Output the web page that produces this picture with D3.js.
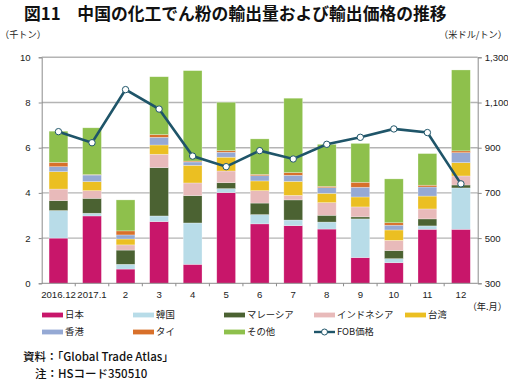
<!DOCTYPE html>
<html><head><meta charset="utf-8">
<script src="https://cdn.jsdelivr.net/npm/d3@7/dist/d3.min.js"></script>
<style>
body{margin:0;background:#fff;}
svg{display:block;font-family:"Liberation Sans","Noto Sans CJK JP",sans-serif;}
.jp{font-family:"Noto Sans CJK JP","Liberation Sans",sans-serif;}
</style></head><body>
<svg id="c" width="508" height="380"></svg>
<script>
const months = ["2016.12","2017.1","2","3","4","5","6","7","8","9","10","11","12"];
const seriesNames = ["日本","韓国","マレーシア","インドネシア","台湾","香港","タイ","その他"];
const japan     = [2.00,2.98,0.63,2.73,0.84,4.01,2.63,2.55,2.40,1.14,0.91,2.39,2.39];
const korea     = [1.22,0.12,0.21,0.25,1.83,0.18,0.41,0.25,0.31,1.71,0.18,0.15,1.83];
const malaysia  = [0.44,0.66,0.63,2.14,1.21,0.26,0.51,0.89,0.30,0.09,0.36,0.31,0.13];
const indonesia = [0.51,0.34,0.23,0.59,0.56,0.52,0.55,0.20,0.56,0.44,0.45,0.44,0.40];
const taiwan    = [0.77,0.40,0.26,0.41,0.78,0.61,0.43,0.62,0.41,0.44,0.46,0.57,0.59];
const hongkong  = [0.22,0.29,0.18,0.34,0.15,0.22,0.23,0.27,0.25,0.43,0.21,0.40,0.44];
const thai      = [0.19,0.02,0.18,0.12,0.04,0.07,0.06,0.12,0.06,0.22,0.11,0.08,0.08];
const other     = [1.38,2.07,1.37,2.56,4.00,2.14,1.57,3.29,1.86,1.72,1.94,1.40,3.58];
const fobPrice  = [971,922,1157,1071,863,816,887,850,915,946,983,967,740];
const leftTicks = [0,2,4,6,8,10];
const rightTicks = [300,500,700,900,1100,1300];
const colors = ["#C8166A","#B8DCE8","#4B6232","#E8BABA","#EBBF22","#95A9D4","#D8702A","#8EC04C"];
const lineColor = "#1F5569";

const svg = d3.select("#c");
const L = 41.7, R = 477.7, T = 57.3, B = 283.3;

const x = d3.scaleBand().domain(months).range([L,R]).paddingInner(0.44).paddingOuter(0.22);
const y = d3.scaleLinear().domain([0,10]).range([B,T]);
const y2 = d3.scaleLinear().domain([300,1300]).range([B,T]);

// title
svg.append("text").attr("class","jp").attr("x",24).attr("y",19.5)
  .attr("font-size",16.8).attr("font-weight",700).attr("fill","#111")
  .text("図11　中国の化工でん粉の輸出量および輸出価格の推移");

svg.append("text").attr("class","jp").attr("x",0).attr("y",38).attr("font-size",9.2).attr("fill","#222").text("（千トン）");
svg.append("text").attr("class","jp").attr("x",507).attr("y",38).attr("text-anchor","end").attr("font-size",9.2).attr("fill","#222").text("（米ドル/トン）");

// gridlines
svg.append("g").selectAll("line").data(leftTicks.filter(d=>d>0)).join("line")
  .attr("x1",L).attr("x2",R).attr("y1",d=>y(d)).attr("y2",d=>y(d))
  .attr("stroke","#b4b4b4").attr("stroke-width",1.4);

// stacked bars
const rows = months.map((m,i)=>({m, v:[japan[i],korea[i],malaysia[i],indonesia[i],taiwan[i],hongkong[i],thai[i],other[i]]}));
const stack = d3.stack().keys(d3.range(8)).value((d,k)=>d.v[k]);
const layers = stack(rows);
svg.append("g").selectAll("g").data(layers).join("g")
  .attr("fill",(d,i)=>colors[i])
  .selectAll("rect").data(d=>d).join("rect")
  .attr("x",d=>x(d.data.m)).attr("width",x.bandwidth())
  .attr("y",d=>y(d[1])).attr("height",d=>Math.max(0,y(d[0])-y(d[1])))
  .attr("stroke","#ffffff").attr("stroke-opacity",0.45).attr("stroke-width",0.6);

// axes
const axL = svg.append("g").attr("transform",`translate(${L},0)`)
  .call(d3.axisLeft(y).tickValues(leftTicks).tickSize(3).tickPadding(8));
const axR = svg.append("g").attr("transform",`translate(${R},0)`)
  .call(d3.axisRight(y2).tickValues(rightTicks).tickSize(4).tickFormat(d3.format(",")).tickPadding(3));
const axB = svg.append("g").attr("transform",`translate(0,${B})`)
  .call(d3.axisBottom(x).tickSize(0).tickPadding(8));
[axL,axR,axB].forEach(a=>{
  a.select(".domain").attr("stroke","#8c8c8c").attr("stroke-width",1);
  a.selectAll(".tick line").attr("stroke","#8c8c8c");
  a.selectAll("text").attr("font-size",9.6).attr("fill","#222").attr("font-family","Liberation Sans, Arial, sans-serif");
});
axB.select(".domain").attr("d",`M${L},0H${R}`);
// category boundary ticks
svg.append("g").selectAll("line").data(months.slice(1)).join("line")
  .attr("x1",d=>x(d)-x.step()*x.paddingInner()/2).attr("x2",d=>x(d)-x.step()*x.paddingInner()/2)
  .attr("y1",B).attr("y2",B+3).attr("stroke","#8c8c8c");
svg.append("text").attr("class","jp").attr("x",507).attr("y",310).attr("text-anchor","end")
  .attr("font-size",9.2).attr("fill","#222").text("（年.月）");

// line
const pts = months.map((m,i)=>({m,v:fobPrice[i]}));
svg.append("path").datum(pts)
  .attr("d",d3.line().x(d=>x(d.m)+x.bandwidth()/2).y(d=>y2(d.v)))
  .attr("fill","none").attr("stroke",lineColor).attr("stroke-width",2.6);
svg.append("g").selectAll("circle").data(pts).join("circle")
  .attr("cx",d=>x(d.m)+x.bandwidth()/2).attr("cy",d=>y2(d.v)).attr("r",3.2)
  .attr("fill","#fff").attr("stroke",lineColor).attr("stroke-width",1);

// legend
const legItems = seriesNames.map((n,i)=>({n,c:colors[i],line:false})).concat([{n:"FOB価格",c:lineColor,line:true}]);
const colX = [42,133,224,314,405];
const lg = svg.append("g").selectAll("g").data(legItems).join("g")
  .attr("transform",(d,i)=>`translate(${colX[i%5]},${i<5?315:332})`);
lg.filter(d=>!d.line).append("rect").attr("x",0).attr("y",-2.4).attr("width",21).attr("height",4.8).attr("fill",d=>d.c);
lg.filter(d=>d.line).append("line").attr("x1",0).attr("x2",21).attr("y1",0).attr("y2",0).attr("stroke",d=>d.c).attr("stroke-width",2.4);
lg.filter(d=>d.line).append("circle").attr("cx",10.5).attr("cy",0).attr("r",3).attr("fill","#fff").attr("stroke",d=>d.c).attr("stroke-width",1);
lg.append("text").attr("class","jp").attr("x",23).attr("y",3.3).attr("font-size",9.4).attr("fill","#222").text(d=>d.n);

// notes
svg.append("text").attr("class","jp").attr("x",23).attr("y",361).attr("font-size",11.5).attr("font-weight",500).attr("fill","#111").text("資料：「Global Trade Atlas」");
svg.append("text").attr("class","jp").attr("x",35).attr("y",378).attr("font-size",11.5).attr("font-weight",500).attr("fill","#111").text("注：HSコード350510");
</script></body></html>
